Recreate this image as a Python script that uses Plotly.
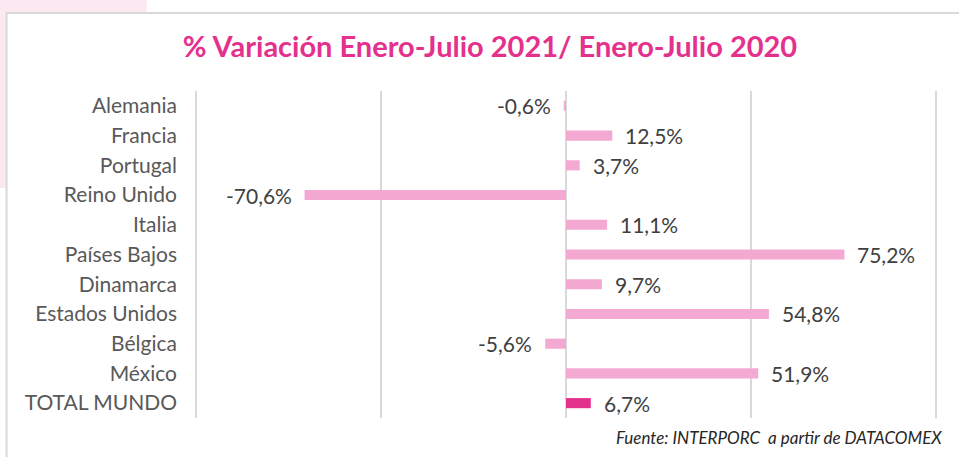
import plotly.graph_objects as go

# Export growth, Jan-Jul 2021 vs Jan-Jul 2020 (%)
countries = ["Alemania", "Francia", "Portugal", "Reino Unido", "Italia", "Países Bajos",
             "Dinamarca", "Estados Unidos", "Bélgica", "México", "TOTAL MUNDO"]
variation = [-0.6, 12.5, 3.7, -70.6, 11.1, 75.2, 9.7, 54.8, -5.6, 51.9, 6.7]

BAR_LIGHT = "#f4a9d3"
BAR_TOTAL = "#e4318e"
colors = [BAR_TOTAL if c == "TOTAL MUNDO" else BAR_LIGHT for c in countries]
labels = [f"{v:.1f}".replace(".", ",") + "%" for v in variation]

W, H = 959, 457
X0, X1 = -101.0, 101.0          # axis range
PX_PER_UNIT = 3.7
L = 566 - (0 - X0) * PX_PER_UNIT
R = W - (566 + X1 * PX_PER_UNIT)
T, B = 91, 39
PW, PH = W - L - R, H - T - B


def px_x(x):
    return (x - L) / PW


def px_y(y):
    return 1 - (y - T) / PH


fig = go.Figure(go.Bar(
    x=variation, y=countries, orientation="h",
    marker=dict(color=colors, line=dict(width=0)),
    hoverinfo="skip",
))

# value labels beside each bar end
for c, v, t in zip(countries, variation, labels):
    fig.add_annotation(
        x=v, y=c, text=t, showarrow=False,
        xanchor="left" if v >= 0 else "right",
        xshift=11 if v >= 0 else -11,
        font=dict(family="Lato, sans-serif", size=21, color="#404040"),
    )

# light pink panel behind the top-left corner, then white framed card
fig.add_shape(type="rect", xref="paper", yref="paper", layer="below",
              x0=px_x(0), x1=px_x(147), y0=px_y(188), y1=px_y(0),
              fillcolor="#fce8f1", line=dict(width=0))
fig.add_shape(type="rect", xref="paper", yref="paper", layer="below",
              x0=px_x(7), x1=px_x(975), y0=px_y(470), y1=px_y(13),
              fillcolor="white", line=dict(color="#d9d9d9", width=2))

fig.update_layout(
    width=W, height=H,
    margin=dict(l=L, r=R, t=T, b=B),
    paper_bgcolor="white", plot_bgcolor="rgba(0,0,0,0)",
    showlegend=False,
    bargap=0.66,
    title=dict(text="<b>% Variación Enero-Julio 2021/ Enero-Julio 2020</b>",
               x=490 / W, xanchor="center", y=1 - 47 / H, yanchor="middle",
               font=dict(family="Lato, sans-serif", size=29, color="#e4318e")),
    xaxis=dict(range=[X0, X1], tickvals=[-100, -50, 0, 50, 100],
               showticklabels=False, showgrid=True, gridcolor="#d9d9d9", gridwidth=2,
               zeroline=True, zerolinecolor="#d9d9d9", zerolinewidth=2,
               showline=False, fixedrange=True),
    yaxis=dict(autorange="reversed", showgrid=False, zeroline=False, showline=False,
               ticks="", ticklabelstandoff=14,
               tickfont=dict(family="Lato, sans-serif", size=21, color="#595959")),
    font=dict(family="Lato, sans-serif"),
)

fig.add_annotation(
    xref="paper", yref="paper",
    x=px_x(944), y=px_y(437),
    xanchor="right", yanchor="middle", showarrow=False,
    text="<i>Fuente: INTERPORC  a partir de DATACOMEX</i>",
    font=dict(family="Lato, sans-serif", size=17, color="#262626"),
)

fig.write_html("out.html")
